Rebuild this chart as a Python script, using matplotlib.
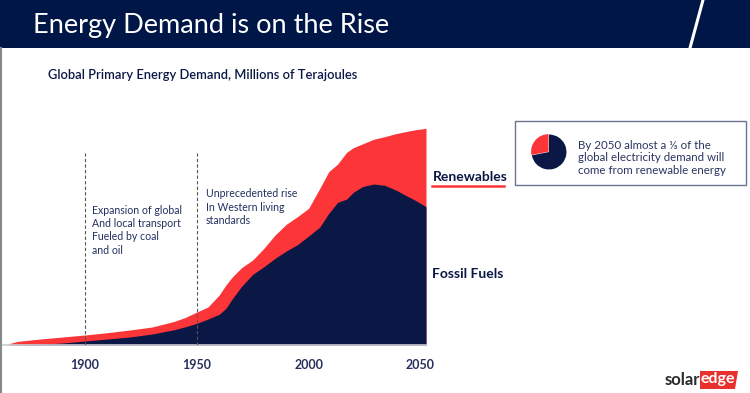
import matplotlib
matplotlib.use("Agg")
import matplotlib.pyplot as plt
from matplotlib.patches import Rectangle, Polygon
import numpy as np

plt.rcParams['font.family'] = ['Lato', 'DejaVu Sans']

NAVY = '#0b1846'
RED = '#fc3538'

years = [1866, 1870, 1880, 1890, 1900, 1910, 1920, 1930, 1940, 1945, 1950, 1955,
         1960, 1963, 1966, 1970, 1975, 1980, 1985, 1990, 1995, 2000, 2005, 2009,
         2013, 2017, 2020, 2024, 2029, 2034, 2039, 2044, 2048, 2052.5]
fossil = [0, 1, 2, 6, 12, 18, 24, 33, 46, 55, 65, 78,
          92, 110, 140, 176, 212, 235, 260, 282, 301, 327, 354, 395,
          428, 438, 458, 475, 483, 479, 465, 447, 433, 415]
renewables = [4, 10, 16, 18, 18, 19, 21, 21, 25, 28, 34, 36,
              58, 70, 65, 56, 43, 55, 70, 80, 84, 83, 116, 125,
              115, 140, 134, 128, 134, 146, 169, 194, 213, 235]
tick_years = [1900, 1950, 2000, 2050]
era_lines = [1900, 1950]
pie_shares = [72, 28]

W, H = 750, 393
fig = plt.figure(figsize=(7.5, 3.93), dpi=100)
fig.patch.set_facecolor('white')

def fx(px):
    return px / W

def fy(py):
    return 1 - py / H

# header band
fig.patches.append(Rectangle((0, fy(48)), 1, 48 / H, transform=fig.transFigure,
                             facecolor='#001646', edgecolor='none', zorder=-2))
fig.lines.append(plt.Line2D([fx(703), fx(690)], [fy(0), fy(48)], transform=fig.transFigure,
                            color='white', lw=2.2))
fig.lines.append(plt.Line2D([fx(1), fx(1)], [fy(48), fy(393)], transform=fig.transFigure,
                            color='#888888', lw=1.5))
fig.text(fx(33), fy(26), 'Energy Demand is on the Rise', color='white', fontsize=19.5,
         va='center', ha='left', fontweight='normal')
fig.text(fx(48), fy(75), 'Global Primary Energy Demand, Millions of Terajoules',
         color=NAVY, fontsize=9.3, va='center', ha='left', fontweight='semibold')

# main chart
ax = fig.add_axes([fx(3), fy(345), fx(426) - fx(3), (345 - 120) / H])
x = np.array(years, dtype=float)
f = np.array(fossil, dtype=float)
r = np.array(renewables, dtype=float)
ax.fill_between(x, 0, f + r, color=RED, lw=0, zorder=1)
ax.fill_between(x, 0, f, color=NAVY, lw=0, zorder=2)
ax.set_xlim(1863.3, 2052.5)
ax.set_ylim(0, 675)
for s in ['top', 'left', 'right']:
    ax.spines[s].set_visible(False)
ax.spines['bottom'].set_color('#c9cdd6')
ax.spines['bottom'].set_linewidth(1.2)
ax.set_yticks([])
ax.set_xticks(tick_years)
ax.set_xticklabels([str(t) for t in tick_years], fontsize=9, fontweight='bold', color='#26305a')
ax.tick_params(axis='x', length=0, pad=10)
ax.patch.set_alpha(0)
for ey in era_lines:
    ax.axvline(ey, ymin=0, ymax=(345 - 153) / 225, color='#555555', lw=0.8,
               ls=(0, (3, 2)), zorder=3)

ax.text(1903, 420, 'Expansion of global\nAnd local transport\nFueled by coal\nand oil',
        fontsize=7.6, color='#22305e', va='top', ha='left', linespacing=1.25)
ax.text(1954, 470, 'Unprecedented rise\nIn Western living\nstandards',
        fontsize=7.6, color='#22305e', va='top', ha='left', linespacing=1.25)

# series labels
fig.text(fx(433), fy(177), 'Renewables', color=NAVY, fontsize=10, fontweight='bold',
         va='center', ha='left')
fig.lines.append(plt.Line2D([fx(432), fx(504)], [fy(186), fy(186)], transform=fig.transFigure,
                            color=RED, lw=1.8))
fig.text(fx(432), fy(274), 'Fossil Fuels', color=NAVY, fontsize=10, fontweight='bold',
         va='center', ha='left')

# info box
fig.patches.append(Rectangle((fx(515), fy(185)), (746 - 515) / W, (185 - 121) / H,
                             transform=fig.transFigure, facecolor='white',
                             edgecolor='#6b7391', lw=1.0, zorder=-1))
pax = fig.add_axes([fx(526), fy(175), 46 / W, 46 / H])
pax.set_zorder(5)
pax.pie(pie_shares, colors=[NAVY, RED], startangle=90, counterclock=False,
        explode=[0, 0.03], radius=0.95, wedgeprops=dict(lw=0))
pax.set_aspect('equal')
fig.text(fx(578), fy(158), 'By 2050 almost a \u2153 of the\nglobal electricity demand will\ncome from renewable energy',
         color='#2a3560', fontsize=8.3, va='center', ha='left', linespacing=1.15)

# logo
fig.text(fx(700), fy(380), 'solar', color='#2b2b2b', fontsize=12, fontweight='bold',
         va='center', ha='right')
fig.patches.append(Polygon([[fx(700), fy(371)], [fx(738), fy(371)], [fx(735), fy(389)],
                            [fx(700), fy(389)]], closed=True, transform=fig.transFigure,
                           facecolor='#e8312f', edgecolor='none'))
fig.text(fx(718), fy(379), 'edge', color='white', fontsize=11.5, fontweight='bold',
         va='center', ha='center')

fig.savefig('out.png', dpi=100)
